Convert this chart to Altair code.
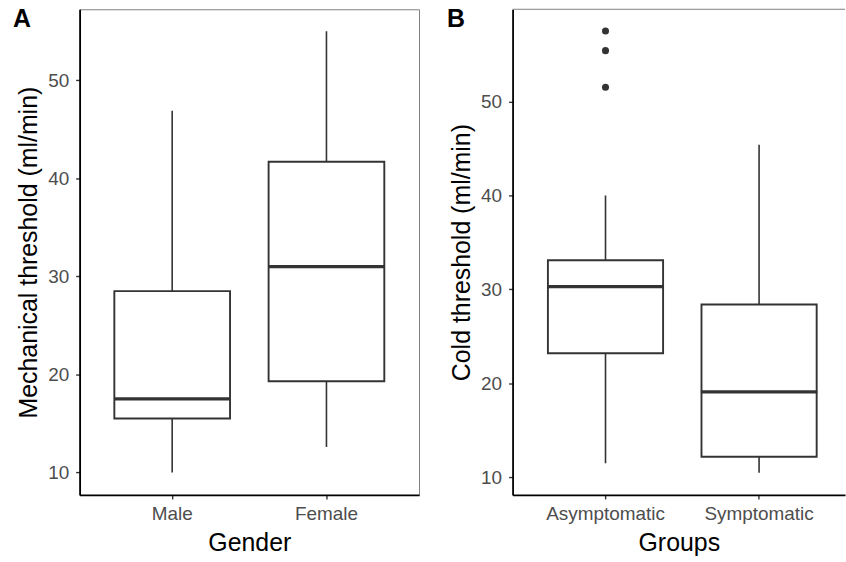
import altair as alt
import pandas as pd

# Panel A: Mechanical threshold by gender (box statistics)
groups_a = ["Male", "Female"]
low_a = [10.0, 12.6]
q1_a = [15.5, 19.3]
med_a = [17.5, 31.0]
q3_a = [28.5, 41.7]
high_a = [46.9, 55.0]

# Panel B: Cold threshold by group
groups_b = ["Asymptomatic", "Symptomatic"]
low_b = [11.5, 10.5]
q1_b = [23.2, 12.2]
med_b = [30.3, 19.1]
q3_b = [33.1, 28.4]
high_b = [40.0, 45.4]
outlier_group_b = ["Asymptomatic", "Asymptomatic", "Asymptomatic"]
outlier_val_b = [51.5, 55.4, 57.5]

FONT = "Liberation Sans"
DARK = "#333333"


def make_panel(groups, low, q1, med, q3, high, ydom, xtitle, ytitle, letter,
               width, pad_inner, pad_outer, align, letter_x,
               out_groups=None, out_vals=None, full_border=True):
    df = pd.DataFrame({"g": groups, "low": low, "q1": q1, "med": med,
                       "q3": q3, "high": high})
    xenc = alt.X("g:N", sort=groups,
                 scale=alt.Scale(paddingInner=pad_inner, paddingOuter=pad_outer, align=align),
                 axis=alt.Axis(title=xtitle, labelAngle=0, labelPadding=6, titlePadding=7))
    yscale = alt.Scale(domain=ydom, nice=False, zero=False)
    yaxis = alt.Axis(title=ytitle, values=[10, 20, 30, 40, 50], labelPadding=7,
                     titlePadding=6)
    base = alt.Chart(df)
    whisk = base.mark_rule(color=DARK, strokeWidth=1.6, opacity=1).encode(
        x=xenc, y=alt.Y("low:Q", scale=yscale, axis=yaxis), y2="high:Q")
    box = base.mark_bar(fill="white", stroke=DARK, strokeWidth=1.9, opacity=1).encode(
        x=xenc, y=alt.Y("q1:Q", scale=yscale, axis=yaxis), y2="q3:Q")
    median = base.mark_tick(color=DARK, thickness=3.2, size=117, orient="horizontal",
                            opacity=1).encode(
        x=xenc, y=alt.Y("med:Q", scale=yscale, axis=yaxis))
    layers = [whisk, box, median]
    if out_vals:
        odf = pd.DataFrame({"g": out_groups, "v": out_vals})
        pts = alt.Chart(odf).mark_circle(color=DARK, opacity=1, size=50).encode(
            x=xenc, y=alt.Y("v:Q", scale=yscale, axis=yaxis))
        layers.append(pts)
    ldf = pd.DataFrame({"label": [letter]})
    txt = alt.Chart(ldf).mark_text(font=FONT, fontSize=25, fontWeight="bold",
                                   align="left", baseline="alphabetic",
                                   color="black").encode(
        x=alt.value(letter_x), y=alt.value(18), text="label:N")
    layers.append(txt)
    if not full_border:
        top = alt.Chart(ldf).mark_rule(color="#7f7f7f", strokeWidth=1).encode(
            x=alt.value(0), x2=alt.value(width), y=alt.value(0))
        layers.append(top)
    ch = alt.layer(*layers).properties(width=width, height=488)
    if not full_border:
        ch = ch.properties(view=alt.ViewBackground(stroke=None))
    return ch


panel_a = make_panel(groups_a, low_a, q1_a, med_a, q3_a, high_a, [7.7, 57.25],
                     "Gender", "Mechanical threshold (ml/min)", "A",
                     341, 0.25, 0.225, 0.5, -67)
panel_b = make_panel(groups_b, low_b, q1_b, med_b, q3_b, high_b, [8.13, 59.8],
                     "Groups", "Cold threshold (ml/min)", "B",
                     334, 0.25, 0.2073, 0.555, -66,
                     out_groups=outlier_group_b, out_vals=outlier_val_b,
                     full_border=False)

chart = alt.hconcat(panel_a, panel_b, spacing=27).properties(
    padding={"left": 12, "top": 5, "right": 0, "bottom": 0}
).configure_view(stroke="#7f7f7f", strokeWidth=1).configure_axis(
    labelFont=FONT, labelFontSize=19, labelColor="#4d4d4d",
    titleFont=FONT, titleFontSize=25, titleColor="black", titleFontWeight="normal",
    grid=False, domainColor="black", domainWidth=1.8,
    tickColor=DARK, tickSize=4, tickWidth=1.4
)

chart.save("out.html", embed_options={"renderer": "svg", "actions": False})
